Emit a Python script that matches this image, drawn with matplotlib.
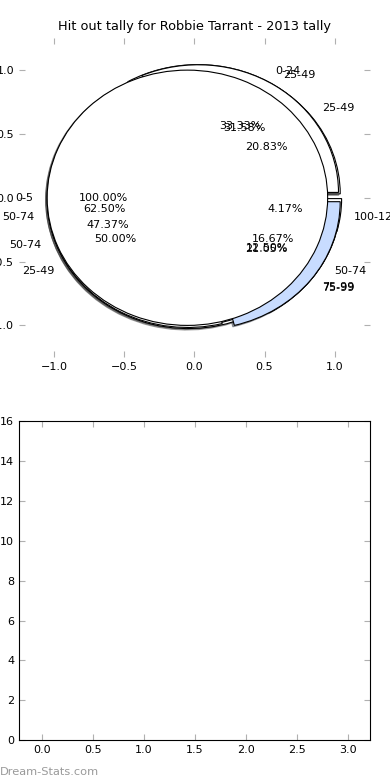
import matplotlib
matplotlib.use('Agg')
import matplotlib.pyplot as plt

# pies drawn on top of each other, in draw order
pie_a_labels = ['0-24', '25-49', '50-74']
pie_a_values = [4, 6, 2]
pie_b_labels = ['25-49', '50-74', '75-99', '100-124']
pie_b_values = [5, 15, 3, 1]
pie_c_labels = ['25-49', '50-74', '75-99']
pie_c_values = [6, 9, 4]
pie_d_labels = ['0-5']
pie_d_values = [1]

bar_x = [0, 1, 2, 3]
bar_h = [0, 0, 0, 0]

BLUE = '#c8dcff'

plt.rcParams.update({
    'font.size': 8,
    'font.family': 'DejaVu Sans',
})

fig = plt.figure(figsize=(3.9, 7.8), dpi=100)
fig.subplots_adjust(left=0.049, right=0.948, top=0.951, bottom=0.051, hspace=0.2)

ax1 = fig.add_subplot(211)
pies = [
    (pie_a_values, pie_a_labels, ['white'] * 3),
    (pie_b_values, pie_b_labels, ['white'] * 4),
    (pie_c_values, pie_c_labels, ['white', 'white', BLUE]),
    (pie_d_values, pie_d_labels, ['white']),
]
for vals, labs, cols in pies:
    ax1.pie(vals, labels=labs, colors=cols, autopct='%1.2f%%',
            explode=[0.05] * len(vals),
            shadow={'ox': -0.008, 'oy': -0.008}, frame=True,
            wedgeprops={'linewidth': 0.8, 'edgecolor': 'black'},
            textprops={'fontsize': 8})

ax1.set_aspect('auto')
ax1.set_xlim(-1.25, 1.25)
ax1.set_ylim(-1.25, 1.25)
ax1.set_xticks([-1.0, -0.5, 0.0, 0.5, 1.0])
ax1.set_yticks([-1.0, -0.5, 0.0, 0.5, 1.0])
ax1.set_xticklabels(['\u22121.0', '\u22120.5', '0.0', '0.5', '1.0'])
ax1.set_yticklabels(['\u22121.0', '\u22120.5', '0.0', '0.5', '1.0'])
for s in ax1.spines.values():
    s.set_visible(False)
ax1.tick_params(direction='in', top=True, right=True, color='#b0b0b0',
                length=4, labelsize=8)
ax1.set_title('Hit out tally for Robbie Tarrant - 2013 tally', fontsize=9.3)

ax2 = fig.add_subplot(212)
ax2.bar(bar_x, bar_h, width=0.35, color=BLUE)
ax2.set_xlim(-0.225, 3.215)
ax2.set_ylim(0, 16)
ax2.set_yticks(range(0, 17, 2))
ax2.set_xticks([0.0, 0.5, 1.0, 1.5, 2.0, 2.5, 3.0])
ax2.tick_params(direction='in', top=True, right=True, color='#b0b0b0',
                length=4, labelsize=8)

fig.text(0.0, 0.004, 'Dream-Stats.com', color='#9a9a9a', fontsize=8.2,
         family='DejaVu Sans', ha='left', va='bottom')

fig.savefig('out.png', dpi=100)
